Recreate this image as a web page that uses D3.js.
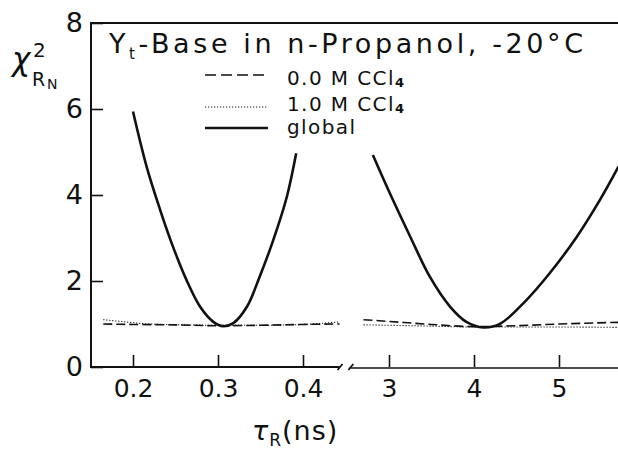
<!DOCTYPE html>
<html><head><meta charset="utf-8">
<script src="https://cdn.jsdelivr.net/npm/d3@7"></script>
<style>
html,body{margin:0;padding:0;background:#fff;}
svg{display:block;}
text{font-family:"DejaVu Sans",sans-serif;fill:#111;}
</style></head>
<body><svg id="c" width="618" height="453"></svg>
<script>
// ---- data ----
const yTicks = [0, 2, 4, 6, 8];
const xTicksLeft = [0.2, 0.3, 0.4];
const xTicksRight = [3, 4, 5];
const xTickLabelsLeft = ["0.2", "0.3", "0.4"];
const xTickLabelsRight = ["3", "4", "5"];

// global fit, short tau segment
const globalLeftX = [0.200, 0.216, 0.232, 0.247, 0.263, 0.279, 0.2945, 0.306, 0.318, 0.334, 0.349, 0.365, 0.381, 0.392];
const globalLeftY = [5.94, 4.66, 3.65, 2.80, 2.02, 1.40, 1.05, 0.95, 1.02, 1.40, 2.10, 2.95, 3.96, 4.97];
// global fit, long tau segment
const globalRightX = [2.81, 3.01, 3.25, 3.48, 3.72, 3.91, 4.11, 4.31, 4.58, 4.89, 5.21, 5.48, 5.70];
const globalRightY = [4.93, 4.04, 3.03, 2.10, 1.40, 1.05, 0.92, 1.01, 1.48, 2.18, 3.03, 3.88, 4.66];

// 0.0 M CCl4 (dashed)
const dashLeftX = [0.165, 0.20, 0.25, 0.30, 0.35, 0.40, 0.443];
const dashLeftY = [1.00, 0.99, 0.98, 0.96, 0.97, 0.99, 1.00];
const dashRightX = [2.70, 3.00, 3.50, 4.00, 4.50, 5.00, 5.75];
const dashRightY = [1.10, 1.06, 0.99, 0.94, 0.96, 1.00, 1.04];
// 1.0 M CCl4 (dotted)
const dotLeftX = [0.165, 0.19, 0.22, 0.26, 0.30, 0.35, 0.40, 0.443];
const dotLeftY = [1.10, 1.05, 1.00, 0.98, 0.97, 0.97, 0.99, 1.05];
const dotRightX = [2.70, 3.00, 3.50, 4.00, 4.50, 5.00, 5.75];
const dotRightY = [0.98, 0.97, 0.95, 0.93, 0.93, 0.93, 0.92];

// ---- scales ----
const svg = d3.select("#c");
const xL = d3.scaleLinear().domain([0.15, 0.45]).range([90.5, 345.5]);
const xR = d3.scaleLinear().domain([2.5, 5.75]).range([346.5, 622.75]);
const y = d3.scaleLinear().domain([0, 8]).range([367, 23]);
const ink = "#111";

// frame lines
svg.append("line").attr("x1", 91).attr("x2", 91).attr("y1", y(8)).attr("y2", y(0))
  .attr("stroke", ink).attr("stroke-width", 2);
svg.append("line").attr("x1", 90).attr("x2", 618).attr("y1", y(8)).attr("y2", y(8))
  .attr("stroke", ink).attr("stroke-width", 1.8);
svg.append("line").attr("x1", 90).attr("x2", xL(0.443)).attr("y1", y(0)).attr("y2", y(0))
  .attr("stroke", ink).attr("stroke-width", 2);
svg.append("line").attr("x1", xR(2.545)).attr("x2", 618).attr("y1", y(0) + 1).attr("y2", y(0) + 1)
  .attr("stroke", ink).attr("stroke-width", 1.6);
// break marks
[xL(0.443), xR(2.545)].forEach(cx => {
  svg.append("line").attr("x1", cx - 2).attr("x2", cx + 3).attr("y1", y(0) + 3).attr("y2", y(0) - 3)
    .attr("stroke", ink).attr("stroke-width", 1.8);
});

function styleAxis(size) {
  return g => {
    g.select(".domain").remove();
    g.selectAll(".tick line").attr("stroke", ink).attr("stroke-width", 1.6);
    g.selectAll(".tick text").attr("fill", ink).style("font-family", '"DejaVu Sans",sans-serif')
      .style("font-size", size + "px");
  };
}
// y axis
svg.append("g").attr("transform", "translate(91,0)")
  .call(d3.axisLeft(y).tickValues(yTicks).tickSize(-12).tickPadding(8).tickFormat(d3.format("d")))
  .call(styleAxis(27));
// x axes
svg.append("g").attr("transform", `translate(0,${y(0)})`)
  .call(d3.axisBottom(xL).tickValues(xTicksLeft).tickSize(-12).tickPadding(12)
    .tickFormat((d, i) => xTickLabelsLeft[i]))
  .call(styleAxis(25));
svg.append("g").attr("transform", `translate(0,${y(0)})`)
  .call(d3.axisBottom(xR).tickValues(xTicksRight).tickSize(-12).tickPadding(12)
    .tickFormat((d, i) => xTickLabelsRight[i]))
  .call(styleAxis(25));

// clip
svg.append("clipPath").attr("id", "clip").append("rect")
  .attr("x", 91).attr("y", y(8)).attr("width", 618 - 91).attr("height", y(0) - y(8));
const plot = svg.append("g").attr("clip-path", "url(#clip)");

function series(xs, ys, sc, curve) {
  const pts = xs.map((v, i) => [sc(v), y(ys[i])]);
  return d3.line().curve(curve)(pts);
}
const cr = d3.curveCatmullRom.alpha(0.5);
const mono = d3.curveMonotoneX;

plot.append("path").attr("d", series(dotLeftX, dotLeftY, xL, mono))
  .attr("fill", "none").attr("stroke", ink).attr("stroke-width", 1.1).attr("stroke-dasharray", "1.2,1.8");
plot.append("path").attr("d", series(dotRightX, dotRightY, xR, mono))
  .attr("fill", "none").attr("stroke", ink).attr("stroke-width", 1.1).attr("stroke-dasharray", "1.2,1.8");
plot.append("path").attr("d", series(dashLeftX, dashLeftY, xL, mono))
  .attr("fill", "none").attr("stroke", ink).attr("stroke-width", 1.6).attr("stroke-dasharray", "9,4");
plot.append("path").attr("d", series(dashRightX, dashRightY, xR, mono))
  .attr("fill", "none").attr("stroke", ink).attr("stroke-width", 1.6).attr("stroke-dasharray", "9,4");
plot.append("path").attr("d", series(globalLeftX, globalLeftY, xL, cr))
  .attr("fill", "none").attr("stroke", ink).attr("stroke-width", 2.6);
plot.append("path").attr("d", series(globalRightX, globalRightY, xR, cr))
  .attr("fill", "none").attr("stroke", ink).attr("stroke-width", 2.6);

// title
const t = svg.append("text").attr("x", 109).attr("y", 53).style("font-size", "27px").style("letter-spacing", "3.6px");
t.append("tspan").text("Y");
t.append("tspan").attr("dy", 6).style("font-size", "15px").text("t");
t.append("tspan").attr("dy", -6).text("-Base in n-Propanol, -20°C");

// legend
const legend = [
  {label: "0.0 M CCl", dash: "11,5", w: 1.6, ly: 75, ty: 85},
  {label: "1.0 M CCl", dash: "1.2,1.8", w: 1.1, ly: 107, ty: 111},
  {label: "global", dash: null, w: 2.6, ly: 128, ty: 134}
];
legend.forEach(d => {
  const l = svg.append("line").attr("x1", 205).attr("x2", 268).attr("y1", d.ly).attr("y2", d.ly)
    .attr("stroke", ink).attr("stroke-width", d.w);
  if (d.dash) l.attr("stroke-dasharray", d.dash);
  const tx = svg.append("text").attr("x", 287).attr("y", d.ty).style("font-size", "20px").style("letter-spacing", "1.4px");
  tx.append("tspan").text(d.label);
  if (d.label !== "global") tx.append("tspan").attr("dy", 2).style("font-size", "13px").style("font-weight", "bold").text("4");
});

// y label
const yl = svg.append("text").attr("x", 12).attr("y", 70).style("font-size", "31px");
yl.append("tspan").style("font-style", "italic").text("χ");
yl.append("tspan").attr("x", 33).attr("y", 57).style("font-size", "20px").text("2");
yl.append("tspan").attr("x", 32).attr("y", 86).style("font-size", "19px").text("R");
yl.append("tspan").attr("x", 47).attr("y", 89).style("font-size", "14px").text("N");

// x label
const xl = svg.append("text").attr("x", 252).attr("y", 440).style("font-size", "27px").style("letter-spacing", "1px");
xl.append("tspan").style("font-style", "italic").text("τ");
xl.append("tspan").attr("dy", 6).style("font-size", "17px").text("R");
xl.append("tspan").attr("dy", -6).text("(ns)");
</script>
</body></html>
